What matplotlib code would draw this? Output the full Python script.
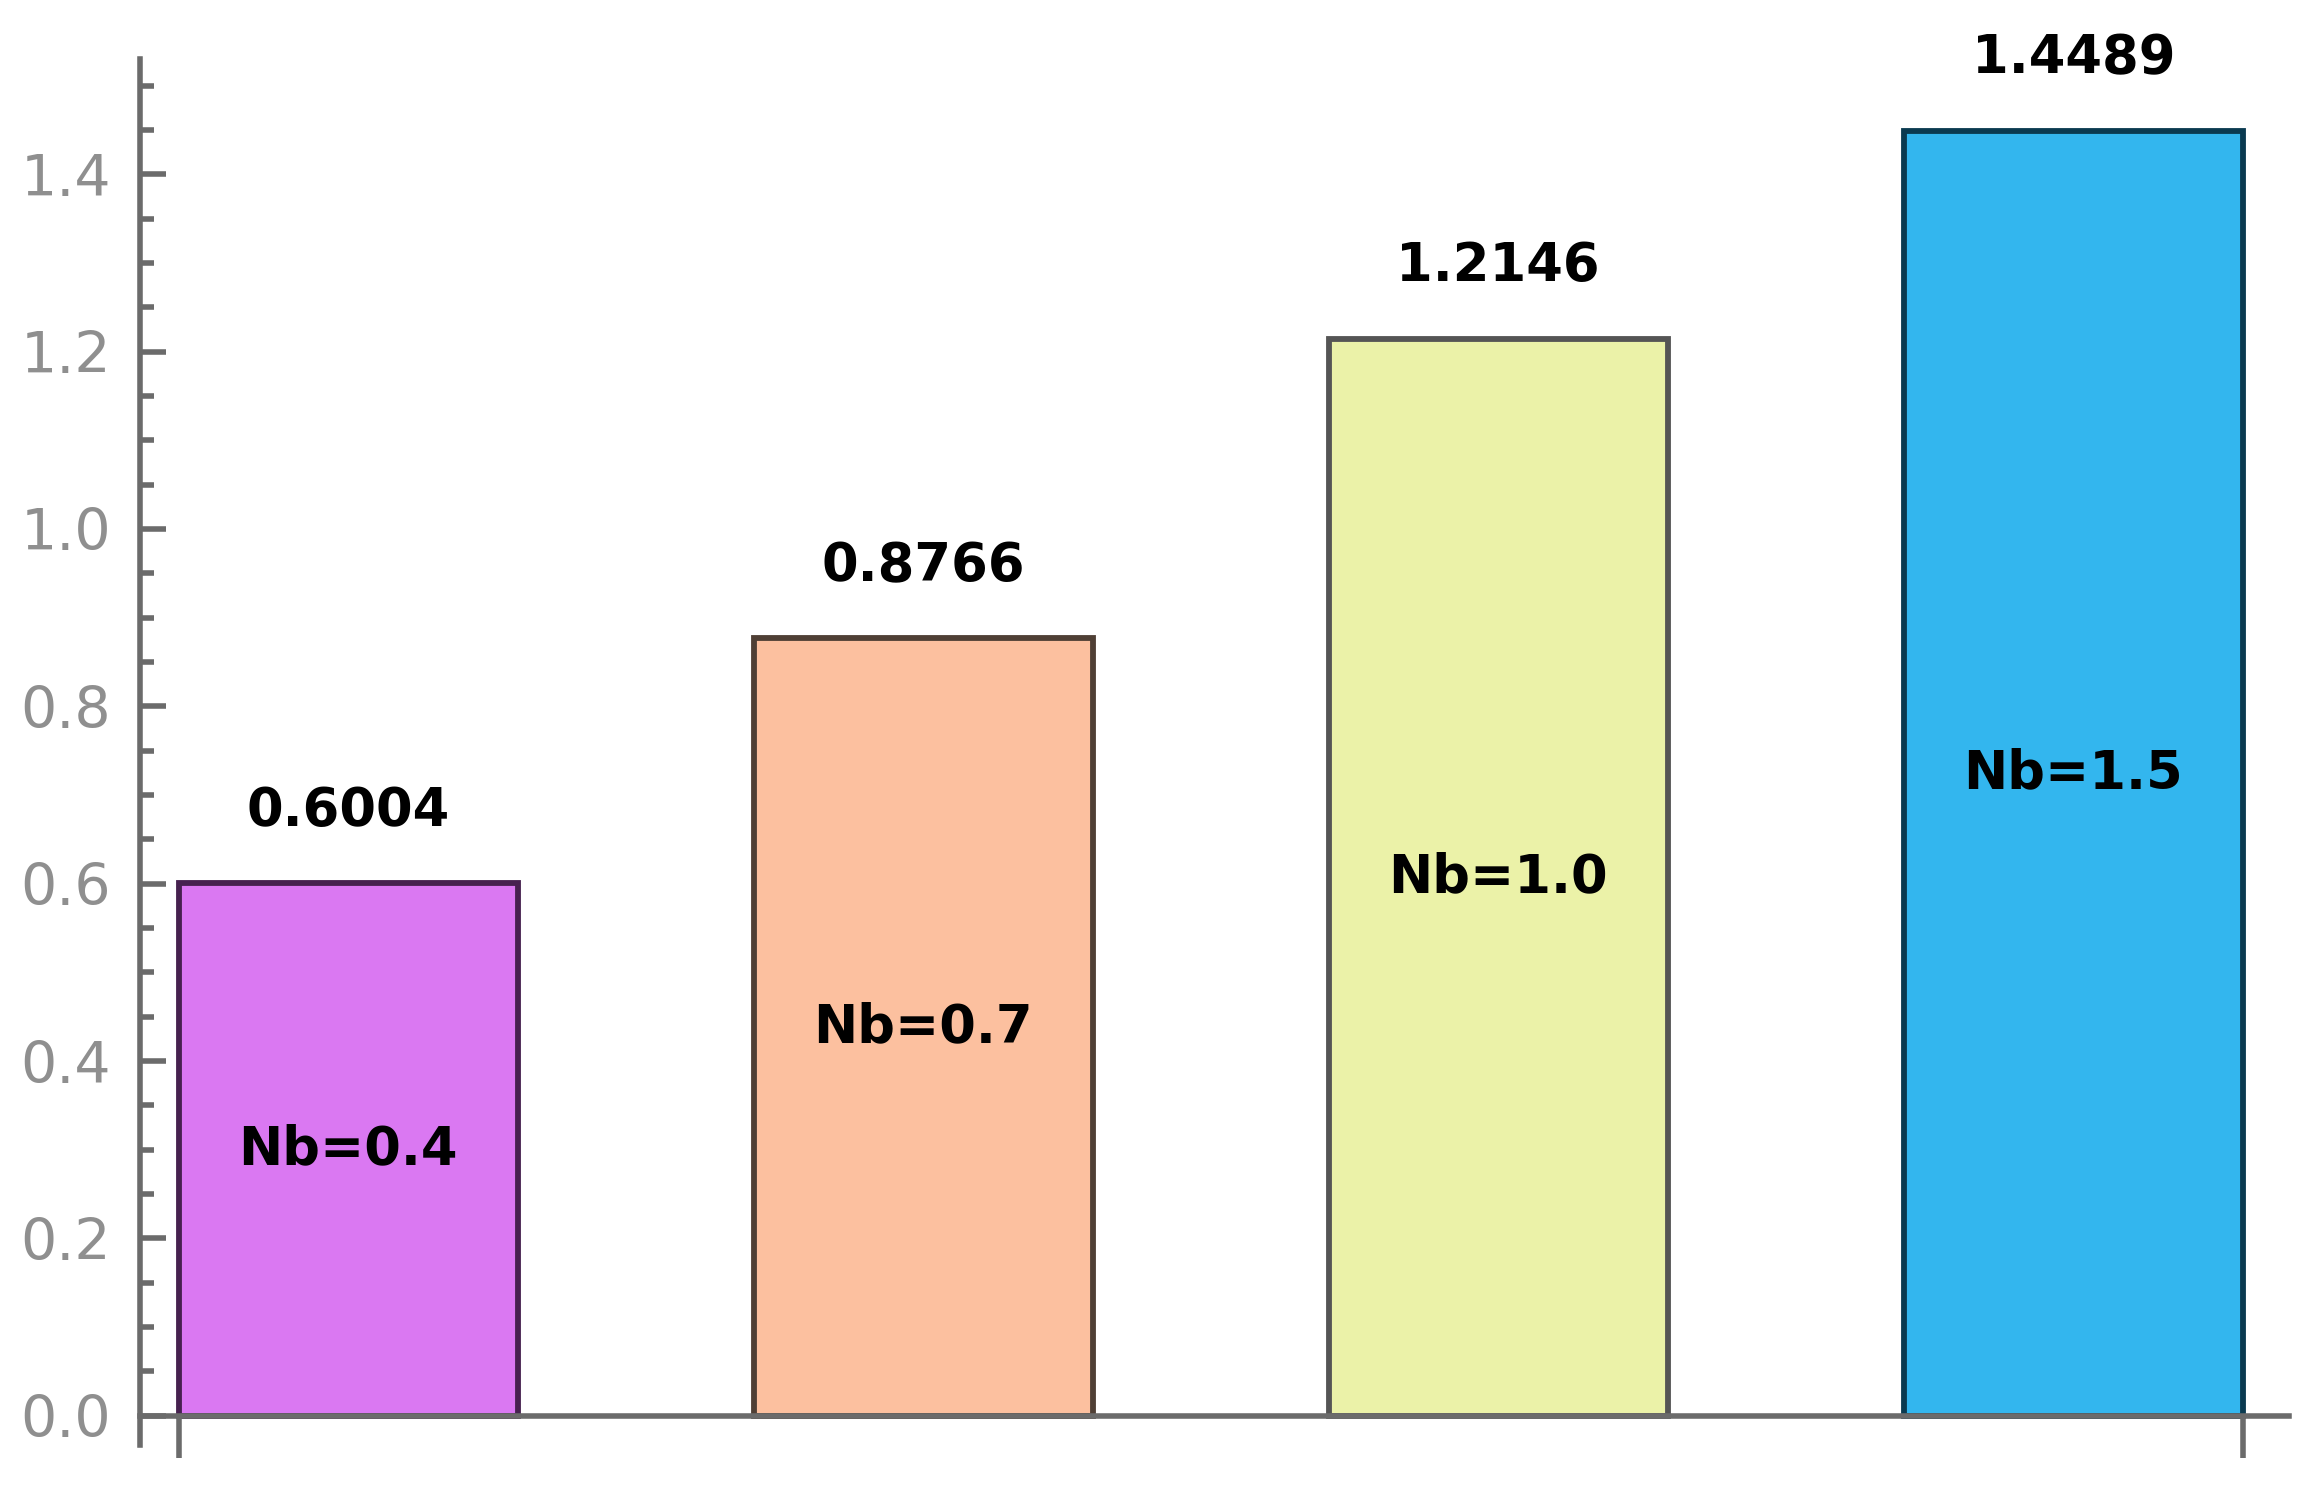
import numpy as np
import matplotlib
matplotlib.use("Agg")
import matplotlib.pyplot as plt
from matplotlib.ticker import FixedLocator

# data
labels = ["Nb=0.4", "Nb=0.7", "Nb=1.0", "Nb=1.5"]
values = [0.6004, 0.8766, 1.2146, 1.4489]
value_text = ["0.6004", "0.8766", "1.2146", "1.4489"]
face_colors = ["#DA78F2", "#FCC09F", "#EBF2A8", "#33B6EE"]
edge_colors = ["#46214F", "#4F3F35", "#555555", "#0A3A50"]
yticks = [0.0, 0.2, 0.4, 0.6, 0.8, 1.0, 1.2, 1.4]

axis_col = "#6b6b6b"
tick_lbl_col = "#8f8f8f"

fig = plt.figure(figsize=(23.08, 14.86), dpi=100)
ax = fig.add_axes([140 / 2308, 1 - 1445 / 1486, (2289 - 140) / 2308, (1445 - 59) / 1486])

x = np.arange(len(values))
width = 0.59
ax.bar(x, values, width=width, color=face_colors, edgecolor=edge_colors, linewidth=4.2, zorder=1)

for xi, v, vt, lb in zip(x, values, value_text, labels):
    ax.annotate(vt, (xi, v), xytext=(0, 52), textcoords="offset points",
                ha="center", va="center", fontsize=38, fontweight="heavy",
                family="DejaVu Sans", color="black")
    ax.text(xi, v / 2, lb, ha="center", va="center", fontsize=38,
            fontweight="heavy", family="DejaVu Sans", color="black")

ax.set_xlim(-0.362, 3.375)
ax.set_ylim(-0.033, 1.53)

for s in ["top", "right"]:
    ax.spines[s].set_visible(False)
ax.spines["bottom"].set_position(("data", 0))
for s in ["left", "bottom"]:
    ax.spines[s].set_color(axis_col)
    ax.spines[s].set_linewidth(4)

# y axis ticks: majors every 0.2, minors every 0.05
ax.yaxis.set_major_locator(FixedLocator(yticks))
ax.set_yticklabels([f"{t:.1f}" for t in yticks])
minor = [m * 0.05 for m in range(1, 31) if m % 4 != 0]
ax.yaxis.set_minor_locator(FixedLocator(minor))
ax.tick_params(axis="y", which="major", direction="in", length=19, width=4,
               color=axis_col, labelsize=41, labelcolor=tick_lbl_col, pad=21)
ax.tick_params(axis="y", which="minor", direction="in", length=10, width=4,
               color=axis_col)

# x axis: only the two edge ticks, no labels
ax.set_xticks([x[0] - width / 2, x[-1] + width / 2])
ax.set_xticklabels([])
ax.tick_params(axis="x", which="major", direction="out", length=30, width=4,
               color=axis_col)

fig.savefig("out.png", dpi=100)
